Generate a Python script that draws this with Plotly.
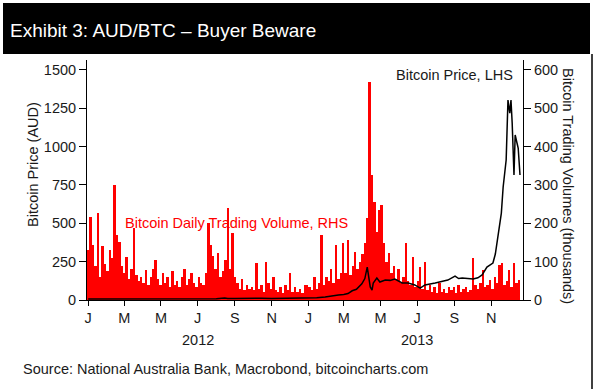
import plotly.graph_objects as go
import pandas as pd

# ---- Data ----
# Bitcoin daily trading volume (thousands), sampled every 4 days from 2012-01-01
vol_start = "2012-01-01"
vol_step_days = 4
volume_k = [
    130, 217, 143, 90, 227, 60, 140, 95,
    75, 130, 110, 300, 170, 150, 90,
    70, 112, 55, 80, 188, 65, 50, 60,
    45, 78, 40, 60, 80, 104, 55,
    40, 70, 45, 60, 35, 75, 40, 50,
    35, 60, 80, 40, 55, 70, 45, 35,
    60, 45, 40, 70, 200, 143, 116,
    80, 122, 60, 75, 104, 240, 80, 175,
    60, 45, 30, 55, 25, 40, 30,
    35, 25, 96, 30, 40, 22, 100, 45,
    30, 60, 25, 20, 35, 18, 40, 25,
    70, 20, 35, 22, 30, 18, 40,
    40, 35, 25, 60, 30, 45, 170, 40,
    60, 50, 80, 45, 143, 55, 70,
    149, 70, 157, 65, 90, 125, 80, 100,
    120, 149, 214, 569, 326, 256, 177, 235,
    248, 149, 100, 122, 70, 90, 55,
    80, 45, 60, 149, 50, 40, 112, 35,
    50, 86, 30, 99, 25, 40, 20,
    35, 18, 45, 22, 30, 18, 35, 25,
    35, 18, 40, 20, 30, 35, 22, 25,
    110, 40, 30, 45, 78, 35, 40,
    52, 30, 60, 45, 91, 96, 40, 50,
    78, 35, 96, 45, 52,
]

price_dates = [
    "2012-01-01", "2012-01-15", "2012-02-01", "2012-02-15", "2012-03-01", "2012-03-15",
    "2012-04-01", "2012-04-15", "2012-05-01", "2012-05-15", "2012-06-01", "2012-06-15",
    "2012-07-01", "2012-07-15", "2012-08-01", "2012-08-15", "2012-08-20", "2012-09-01",
    "2012-09-15", "2012-10-01", "2012-10-15", "2012-11-01", "2012-11-15", "2012-12-01",
    "2012-12-15", "2013-01-01", "2013-01-15", "2013-01-29", "2013-02-10", "2013-02-20",
    "2013-03-01", "2013-03-08", "2013-03-15", "2013-03-22", "2013-03-31", "2013-04-05",
    "2013-04-09", "2013-04-12", "2013-04-14", "2013-04-17", "2013-04-19", "2013-04-25",
    "2013-04-30", "2013-05-09", "2013-05-17", "2013-05-25", "2013-06-06", "2013-06-16",
    "2013-06-27", "2013-07-06", "2013-07-14", "2013-07-31", "2013-08-10", "2013-08-21",
    "2013-09-02", "2013-09-08", "2013-09-14", "2013-10-02", "2013-10-10", "2013-10-17",
    "2013-10-25", "2013-11-04", "2013-11-08", "2013-11-11", "2013-11-18", "2013-11-21",
    "2013-11-26", "2013-11-29", "2013-12-02", "2013-12-04", "2013-12-06", "2013-12-09",
    "2013-12-11", "2013-12-14", "2013-12-16", "2013-12-19",
]
price_aud = [
    6.5, 6.8, 5.8, 4.3, 4.7, 5.1,
    4.8, 4.8, 4.9, 4.9, 5.1, 6.3,
    6.5, 7.4, 8.9, 12.6, 9.5, 9.8,
    11.4, 12.2, 11.4, 10.3, 11.1, 12.1,
    12.9, 13, 14.5, 20, 24, 32,
    36, 42, 60, 70, 105, 140,
    215, 120, 85, 65, 111, 143,
    117, 130, 128, 137, 111, 111,
    98, 78, 98, 111, 118, 130,
    156, 140, 143, 137, 145, 163,
    215, 241, 300, 391, 567, 737,
    913, 1304, 1219, 1304, 1154, 815,
    1076, 1024, 991, 815,
]

month_ticks = ["2012-01-01", "2012-03-01", "2012-05-01", "2012-07-01", "2012-09-01", "2012-11-01",
               "2013-01-01", "2013-03-01", "2013-05-01", "2013-07-01", "2013-09-01", "2013-11-01"]
month_labels = ["J", "M", "M", "J", "S", "N", "J", "M", "M", "J", "S", "N"]
year_labels = ["2012", "2013"]
year_positions = ["2012-07-01", "2013-07-01"]
price_ticks = [0, 250, 500, 750, 1000, 1250, 1500]
volume_ticks = [0, 100, 200, 300, 400, 500, 600]

vol_dates = pd.date_range(vol_start, periods=len(volume_k), freq=f"{vol_step_days}D")

FONT = "Liberation Sans, Arial, sans-serif"
TXT = "#1a1a1a"
FS = 14.5

fig = go.Figure()
fig.add_trace(go.Bar(
    x=vol_dates, y=volume_k, yaxis="y",
    width=vol_step_days * 86400000,
    marker=dict(color="#ff0000", line=dict(width=0)),
    showlegend=False,
))
fig.add_trace(go.Scatter(
    x=price_dates, y=price_aud, yaxis="y2", mode="lines",
    line=dict(color="black", width=1.5),
    showlegend=False,
))

W, H = 600, 389
L, R, T, B = 87, 77, 60, 89
pw, ph = W - L - R, H - T - B


def px(xp):
    return (xp - L) / pw


def py(yp):
    return (H - B - yp) / ph


fig.update_layout(
    width=W, height=H,
    margin=dict(l=L, r=R, t=T, b=B),
    paper_bgcolor="white", plot_bgcolor="white",
    font=dict(family=FONT, size=FS, color=TXT),
    bargap=0,
    xaxis=dict(
        type="date", range=["2011-12-30", "2013-12-24"],
        tickvals=month_ticks, ticktext=month_labels,
        showline=True, linecolor="black", linewidth=1,
        ticks="outside", ticklen=5, tickcolor="black",
        showgrid=False, zeroline=False,
        tickfont=dict(size=FS, color=TXT),
    ),
    yaxis=dict(
        side="right", range=[0, 626], tickvals=volume_ticks,
        showline=True, linecolor="black", linewidth=1,
        ticks="outside", ticklen=7, tickcolor="black",
        showgrid=False, zeroline=False,
        tickfont=dict(size=FS, color=TXT),
    ),
    yaxis2=dict(
        side="left", overlaying="y", range=[0, 1565], tickvals=price_ticks,
        showline=True, linecolor="black", linewidth=1,
        ticks="outside", ticklen=7, tickcolor="black",
        showgrid=False, zeroline=False,
        tickfont=dict(size=FS, color=TXT),
    ),
    shapes=[
        dict(type="rect", xref="paper", yref="paper",
             x0=px(3), x1=px(590), y0=py(54), y1=py(3),
             fillcolor="black", line=dict(width=0), layer="below"),
        dict(type="line", xref="paper", yref="paper",
             x0=px(592), x1=px(592), y0=py(389), y1=py(54),
             line=dict(color="black", width=1.5)),
    ],
)

ann = [
    dict(text="Exhibit 3: AUD/BTC \u2013 Buyer Beware", x=px(8), y=py(30),
         xanchor="left", yanchor="middle", font=dict(size=19, color="white")),
    dict(text="Bitcoin Price (AUD)", x=px(33), y=py(165), textangle=-90,
         xanchor="center", yanchor="middle", font=dict(size=FS, color=TXT)),
    dict(text="Bitcoin Trading Volumes (thousands)", x=px(568), y=py(186), textangle=90,
         xanchor="center", yanchor="middle", font=dict(size=FS, color=TXT)),
    dict(text="Bitcoin Price, LHS", x=px(515), y=py(75),
         xanchor="right", yanchor="middle", font=dict(size=FS, color=TXT)),
    dict(text="Bitcoin Daily Trading Volume, RHS", x=px(123), y=py(223),
         xanchor="left", yanchor="middle", font=dict(size=FS, color="#ff0000")),
    dict(text="Source: National Australia Bank, Macrobond, bitcoincharts.com", x=px(21), y=py(369),
         xanchor="left", yanchor="middle", font=dict(size=FS, color=TXT)),
]
for a in ann:
    a.update(xref="paper", yref="paper", showarrow=False)
for lbl, pos in zip(year_labels, year_positions):
    ann.append(dict(text=lbl, x=pos, y=py(340), xref="x", yref="paper",
                    xanchor="center", yanchor="middle", showarrow=False,
                    font=dict(size=FS, color=TXT)))
fig.update_layout(annotations=ann)

fig.write_html("out.html", config={"displayModeBar": False},
               post_script="document.body.style.margin='0';")
